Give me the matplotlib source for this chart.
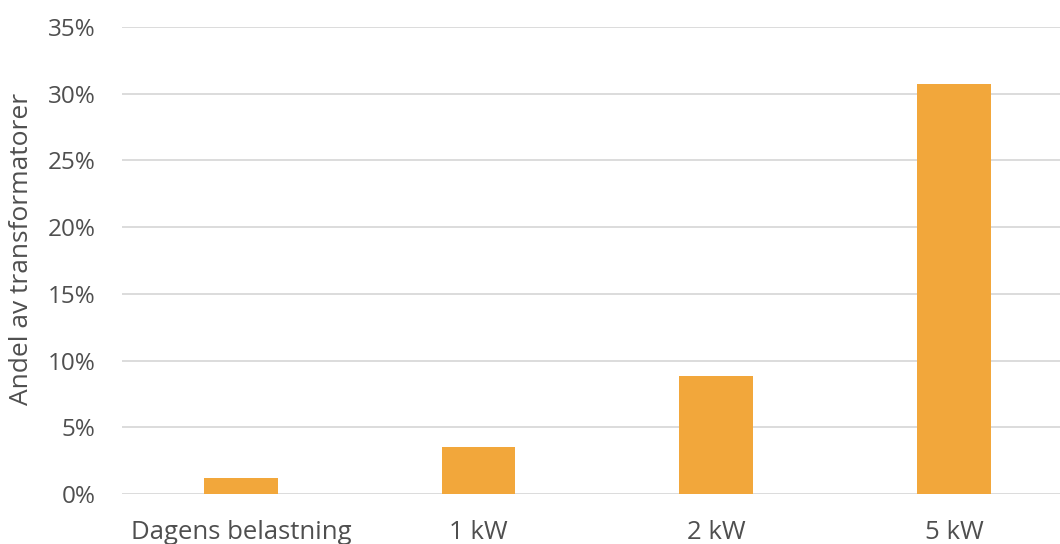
import matplotlib.pyplot as plt
from matplotlib.ticker import PercentFormatter

# Share of transformers overloaded per added load scenario
categories = ["Dagens belastning", "1 kW", "2 kW", "5 kW"]
shares = [1.2, 3.5, 8.85, 30.7]
y_ticks = [0, 5, 10, 15, 20, 25, 30, 35]

BAR_COLOR = "#F2A73B"
GRID_COLOR = "#D9D9D9"
TEXT_COLOR = "#4F4F4F"

plt.rcParams['font.family'] = ['Open Sans', 'DejaVu Sans']

fig = plt.figure(figsize=(10.6, 5.44), dpi=100)
ax = fig.add_axes([0.1151, 0.0919, 0.897, 0.8585])

x = range(len(categories))
ax.bar(x, shares, width=0.31, color=BAR_COLOR, zorder=3)

ax.set_xlim(-0.5, len(categories) - 0.5)
ax.set_ylim(0, 35)
ax.set_yticks(y_ticks)
ax.yaxis.set_major_formatter(PercentFormatter(decimals=0))
ax.set_xticks(list(x))
ax.set_xticklabels(categories)

ax.grid(axis='y', color=GRID_COLOR, linewidth=1.3, zorder=0)
for side in ax.spines.values():
    side.set_visible(False)
ax.tick_params(axis='y', length=0, labelsize=17.5, labelcolor=TEXT_COLOR, pad=19)
ax.tick_params(axis='x', length=0, labelsize=18.5, labelcolor=TEXT_COLOR, pad=19)

ax.set_ylabel("Andel av transformatorer", fontsize=19, color=TEXT_COLOR)
ax.yaxis.set_label_coords(-0.0925, 0.525)

fig.savefig("out.png", dpi=100)
plt.close(fig)
